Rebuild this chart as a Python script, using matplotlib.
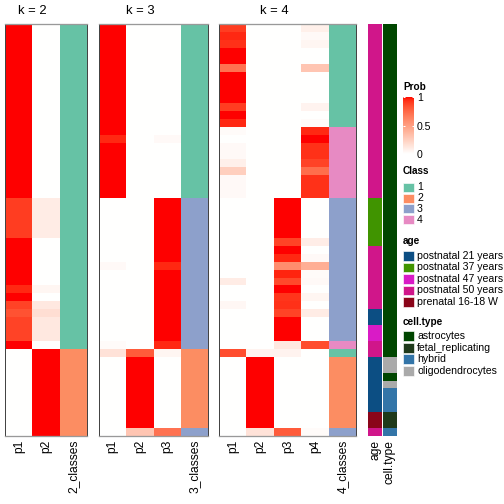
import numpy as np
import matplotlib
matplotlib.use('Agg')
import matplotlib.pyplot as plt
from matplotlib.colors import ListedColormap
from matplotlib.patches import Rectangle

plt.rcParams['font.family'] = ['Liberation Sans', 'DejaVu Sans']

W = H = 504

# ---- data (52 samples, top to bottom) ----
k2_p1 = [1]*22 + [0.9]*5 + [1]*6 + [0.95, 1, 0.88, 0.83] + [0.88]*3 + [1] + [0]*11
k2_p2 = [0]*22 + [0.1]*5 + [0]*6 + [0.05, 0, 0.12, 0.17] + [0.12]*3 + [0] + [1]*11
k2_class = [1]*41 + [2]*11

k3_p1 = [1]*14 + [0.95] + [1]*7 + [0]*8 + [0.03] + [0]*9 + [0.02, 0.15] + [0]*10
k3_p2 = [0]*41 + [0.8] + [1]*9 + [0.3]
k3_p3 = [0]*14 + [0.03] + [0]*7 + [1]*8 + [0.95] + [1]*9 + [0.95, 0.05] + [0]*9 + [0.7]
k3_class = [1]*22 + [3]*19 + [2]*10 + [3]

k4_p1 = ([0.9, 0.95, 0.93, 1, 1, 0.7, 1, 1, 1, 1, 0.9, 1, 0.95]
         + [0.02, 0, 0.03, 0.03, 0.08, 0.25, 0.03, 0.03, 0.03]
         + [0]*10 + [0.1, 0, 0, 0.04] + [0]*5 + [0.85] + [0]*10)
k4_p2 = [0]*41 + [0.06] + [1]*9 + [0.15]
k4_p3 = ([0]*22 + [1]*5
         + [0.88, 1, 0.95, 0.58, 0.96, 0.86, 1, 0.92, 0.93, 0.88, 1, 1, 1, 0.12, 0.06]
         + [0]*9 + [0.8])
k4_p4 = ([0.08, 0.03, 0.05, 0, 0, 0.3, 0, 0, 0, 0, 0.06, 0, 0.02]
         + [0.95, 1, 0.93, 0.93, 0.88, 0.72, 0.93, 0.93, 0.93]
         + [0]*5
         + [0.09, 0, 0.03, 0.42, 0.02, 0.03, 0, 0.05, 0, 0.1, 0, 0, 0, 0.85, 0]
         + [0]*9 + [0.02])
k4_class = [1]*13 + [4]*9 + [3]*18 + [4, 1] + [2]*9 + [3]

age_levels = ['postnatal 21 years', 'postnatal 37 years', 'postnatal 47 years',
              'postnatal 50 years', 'prenatal 16-18 W']
age_colors = ['#0C4E83', '#409400', '#D91BC6', '#D0168A', '#8A0519']
age = (['postnatal 50 years']*22 + ['postnatal 37 years']*6 + ['postnatal 50 years']*8
       + ['postnatal 21 years']*2 + ['postnatal 47 years']*2 + ['postnatal 50 years']*2
       + ['postnatal 21 years']*7 + ['prenatal 16-18 W']*2 + ['postnatal 50 years'])

cell_levels = ['astrocytes', 'fetal_replicating', 'hybrid', 'oligodendrocytes']
cell_colors = ['#004600', '#1F3A1B', '#3375A8', '#AAAAAA']
cell_type = (['astrocytes']*42 + ['oligodendrocytes']*2 + ['astrocytes'] + ['oligodendrocytes']
             + ['hybrid']*3 + ['fetal_replicating']*2 + ['hybrid'])

class_levels = ['1', '2', '3', '4']
class_colors = ['#66C2A5', '#FC8D62', '#8DA0CB', '#E78AC3']


# white -> red ramp interpolated in LAB space
def lab2rgb(lab):
    L, a, b = lab[:, 0], lab[:, 1], lab[:, 2]
    fy = (L + 16) / 116
    fx = fy + a / 500
    fz = fy - b / 200
    finv = lambda t: np.where(t > 6/29, t**3, 3*(6/29)**2*(t - 4/29))
    X, Y, Z = 0.95047*finv(fx), finv(fy), 1.08883*finv(fz)
    r = 3.2406*X - 1.5372*Y - 0.4986*Z
    g = -0.9689*X + 1.8758*Y + 0.0415*Z
    bb = 0.0557*X - 0.2040*Y + 1.0570*Z
    rgb = np.clip(np.stack([r, g, bb], -1), 0, None)
    rgb = np.where(rgb <= 0.0031308, 12.92*rgb, 1.055*rgb**(1/2.4) - 0.055)
    return np.clip(rgb, 0, 1)


t = np.linspace(0, 1, 256)[:, None]
lab = np.array([100, 0, 0]) + t*(np.array([53.24, 80.09, 67.20]) - np.array([100, 0, 0]))
prob_cmap = ListedColormap(lab2rgb(lab))

fig = plt.figure(figsize=(W/72, H/72), dpi=72)


def add_ax(x0, x1, y0, y1):
    return fig.add_axes([x0/W, 1 - y1/H, (x1 - x0)/W, (y1 - y0)/H])


TOP, BOT = 24, 436
n = len(k2_p1)
panels = [
    ('k = 2', [k2_p1, k2_p2], k2_class, '2_classes', 5.3, 87.3),
    ('k = 3', [k3_p1, k3_p2, k3_p3], k3_class, '3_classes', 99, 208.3),
    ('k = 4', [k4_p1, k4_p2, k4_p3, k4_p4], k4_class, '4_classes', 219.3, 356.3),
]

im = None
for title, probs, cls, cls_label, x0, x1 in panels:
    ax = add_ax(x0, x1, TOP, BOT)
    P = np.array(probs).T
    k = P.shape[1]
    im = ax.imshow(P, cmap=prob_cmap, vmin=0, vmax=1, aspect='auto',
                   interpolation='nearest', extent=(-0.5, k - 0.5, n - 0.5, -0.5))
    ax.imshow(np.array(cls)[:, None], cmap=ListedColormap(class_colors), vmin=0.5, vmax=4.5,
              aspect='auto', interpolation='nearest', extent=(k - 0.5, k + 0.5, n - 0.5, -0.5))
    ax.set_xlim(-0.5, k + 0.5)
    ax.set_ylim(n - 0.5, -0.5)
    ax.set_xticks(range(k + 1))
    ax.set_xticklabels([f'p{i+1}' for i in range(k)] + [cls_label], rotation=90, fontsize=12)
    ax.set_yticks([])
    ax.tick_params(length=0, pad=4)
    for side in ['left', 'right']:
        ax.spines[side].set_color('#444444')
        ax.spines[side].set_linewidth(1)
    for side in ['top', 'bottom']:
        ax.spines[side].set_color('#999999')
        ax.spines[side].set_linewidth(1.3)
    ax.annotate(title, xy=((k - 1) / 2, -0.5), xycoords='data', xytext=(0, 13),
                textcoords='offset points', ha='center', va='center', fontsize=13)

# annotation columns
for levels, colors, values, label, x0, x1 in [
        (age_levels, age_colors, age, 'age', 368, 382),
        (cell_levels, cell_colors, cell_type, 'cell.type', 383, 397)]:
    ax = add_ax(x0, x1, TOP, BOT)
    idx = np.array([levels.index(v) for v in values])[:, None]
    ax.imshow(idx, cmap=ListedColormap(colors), vmin=-0.5, vmax=len(levels) - 0.5,
              aspect='auto', interpolation='nearest', extent=(-0.5, 0.5, n - 0.5, -0.5))
    ax.set_xticks([0])
    ax.set_xticklabels([label], rotation=90, fontsize=12)
    ax.set_yticks([])
    ax.tick_params(length=0, pad=4)
    for s in ax.spines.values():
        s.set_visible(False)

# Prob colour bar
cax = add_ax(403, 414, 97, 154)
cb = fig.colorbar(im, cax=cax, ticks=[0, 0.5, 1])
cb.outline.set_visible(False)
cax.set_yticklabels(['0', '0.5', '1'])
cax.tick_params(left=True, right=True, direction='in', color='white', length=2,
                width=1, labelsize=10.5, pad=3)

# legends
lg = add_ax(398, 504, 75, 380)
lg.set_xlim(398, 504)
lg.set_ylim(380, 75)
lg.axis('off')
lg.text(403, 87.5, 'Prob', fontsize=10, fontweight='bold', va='center', ha='left')


def legend_block(title, title_y, labels, colors, y0, step, h):
    lg.text(403, title_y, title, fontsize=10, fontweight='bold', va='center', ha='left')
    for i, (lab_, col) in enumerate(zip(labels, colors)):
        y = y0 + i * step
        lg.add_patch(Rectangle((403, y), 11, h, facecolor=col, edgecolor='white', lw=0.6))
        lg.text(417, y + h / 2, lab_, fontsize=10.5, va='center', ha='left', clip_on=False)


legend_block('Class', 171.5, class_levels, class_colors, 183, 10.7, 9)
legend_block('age', 241.5, age_levels, age_colors, 251, 11.5, 9.5)
legend_block('cell.type', 322, cell_levels, cell_colors, 331, 11.7, 10)

fig.savefig('out.png', dpi=72)
